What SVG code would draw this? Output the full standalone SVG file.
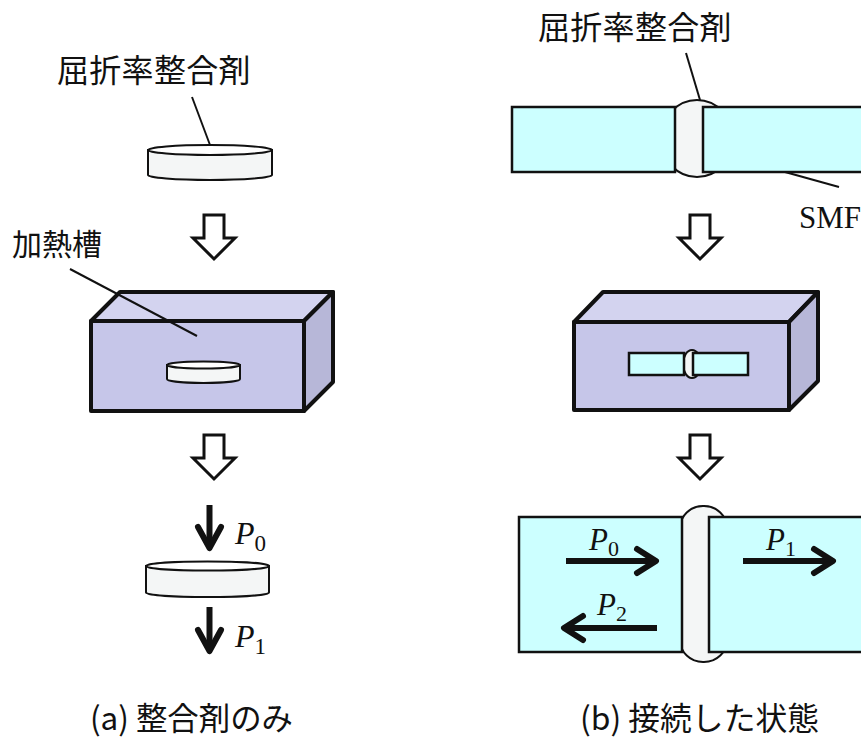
<svg xmlns="http://www.w3.org/2000/svg" width="861" height="738" viewBox="0 0 861 738">
  <style>
    .jp { font-family: "Noto Sans CJK JP", "Noto Sans CJK SC", sans-serif; fill: #111; }
    .sym { font-family: "Liberation Serif", "Times New Roman", serif; fill: #111; }
    .lead { stroke: #111; stroke-width: 2; fill: none; }
    .fiber { fill: #ccffff; stroke: #111; stroke-width: 2.5; }
    .gel { fill: #f4f6f6; stroke: #111; stroke-width: 2; }
    .disc-top { fill: #ffffff; stroke: #111; stroke-width: 2; }
    .front { fill: #c6c6e9; stroke: #111; stroke-width: 4; stroke-linejoin: round; }
    .top { fill: #d3d3ef; stroke: #111; stroke-width: 4; stroke-linejoin: round; }
    .side { fill: #b7b7d8; stroke: #111; stroke-width: 4; stroke-linejoin: round; }
    .hollow { fill: #ffffff; stroke: #111; stroke-width: 3; }
    .shaft { stroke: #111; stroke-width: 6; fill: none; }
    .head { stroke: #111; stroke-width: 6; fill: none; stroke-linecap: round; stroke-linejoin: round; }
  </style>
  <defs>
    <path id="hollowDown" class="hollow" d="M -10 0 H 10 V 23 H 21 L 0 44 L -21 23 H -10 Z"/>
  </defs>

  <!-- (a) matching agent alone -->
  <g id="label-agent-a">
    <text class="jp" x="57" y="82" font-size="32" letter-spacing="0.3">屈折率整合剤</text>
  </g>
  <g id="disc-a1">
    <path class="gel" d="M 148 150 V 175 A 62 5 0 0 0 272 175 V 150 Z"/>
    <ellipse class="disc-top" cx="210" cy="150" rx="62" ry="5"/>
  </g>
  <g id="label-bath">
    <text class="jp" x="12" y="255" font-size="30">加熱槽</text>
  </g>
  <g id="bath-a">
    <polygon class="top" points="91,321 120,292 333,292 304,321"/>
    <polygon class="side" points="304,321 333,292 333,382 304,411"/>
    <rect class="front" x="91" y="321" width="213" height="90"/>
    <path class="gel" d="M 167 365 V 379 A 36.5 4 0 0 0 240 379 V 365 Z"/>
    <ellipse class="disc-top" cx="203.5" cy="365" rx="36.5" ry="3.5"/>
  </g>
  <g id="disc-a2">
    <path class="gel" d="M 146 566 V 592.5 A 61.5 4.5 0 0 0 269 592.5 V 566 Z"/>
    <ellipse class="disc-top" cx="207.5" cy="566" rx="61.5" ry="4.5"/>
  </g>
  <g id="power-a">
    <text class="sym" x="235" y="544" font-size="32"><tspan font-style="italic">P</tspan><tspan font-size="23" dy="7">0</tspan></text>
    <text class="sym" x="235" y="647" font-size="32"><tspan font-style="italic">P</tspan><tspan font-size="23" dy="7">1</tspan></text>
  </g>
  <g id="caption-a">
    <text class="jp" x="90" y="730" font-size="32" textLength="203" lengthAdjust="spacingAndGlyphs">(a) 整合剤のみ</text>
  </g>

  <!-- (b) connected fibres -->
  <g id="label-agent-b">
    <text class="jp" x="538" y="39" font-size="32" letter-spacing="0.3">屈折率整合剤</text>
  </g>
  <g id="joint-b1">
    <ellipse class="gel" cx="697" cy="138.5" rx="36" ry="38.5"/>
    <rect class="fiber" x="512" y="107" width="163" height="65"/>
    <rect class="fiber" x="703" y="107" width="170" height="65"/>
  </g>
  <g id="label-smf">
    <text class="sym" x="799" y="228" font-size="31">SMF</text>
  </g>
  <g id="bath-b">
    <polygon class="top" points="574,322 603,292 818,292 789,322"/>
    <polygon class="side" points="789,322 818,292 818,381 789,410"/>
    <rect class="front" x="574" y="322" width="215" height="88"/>
    <ellipse class="gel" cx="692" cy="364" rx="9" ry="14"/>
    <rect class="fiber" x="629" y="353" width="55" height="22"/>
    <rect class="fiber" x="693" y="353" width="55" height="22"/>
  </g>
  <g id="joint-b2">
    <rect class="gel" x="680" y="506" width="47" height="156" rx="23" ry="22"/>
    <rect class="fiber" x="519" y="517" width="163" height="135"/>
    <rect class="fiber" x="709" y="517" width="170" height="135"/>
  </g>
  <g id="power-b">
    <text class="sym" x="589" y="550" font-size="31"><tspan font-style="italic">P</tspan><tspan font-size="22" dy="6">0</tspan></text>
    <text class="sym" x="766" y="550" font-size="31"><tspan font-style="italic">P</tspan><tspan font-size="22" dy="6">1</tspan></text>
    <text class="sym" x="597" y="615" font-size="31"><tspan font-style="italic">P</tspan><tspan font-size="22" dy="6">2</tspan></text>
  </g>
  <g id="caption-b">
    <text class="jp" x="580" y="730" font-size="32" textLength="239" lengthAdjust="spacingAndGlyphs">(b) 接続した状態</text>
  </g>

  <!-- connectors: leader lines, process arrows, power arrows -->
  <g id="connectors">
    <line class="lead" x1="192" y1="97" x2="210" y2="145"/>
    <line class="lead" x1="70" y1="269" x2="197" y2="336"/>
    <line class="lead" x1="686" y1="53" x2="700" y2="100"/>
    <line class="lead" x1="785" y1="172" x2="839" y2="187"/>

    <use href="#hollowDown" x="214" y="215"/>
    <use href="#hollowDown" x="214" y="435"/>
    <use href="#hollowDown" x="700" y="215"/>
    <use href="#hollowDown" x="700" y="435"/>

    <line class="shaft" x1="209.5" y1="505" x2="209.5" y2="546"/>
    <polyline class="head" points="198,527 209.5,548 221,527"/>
    <line class="shaft" x1="209.5" y1="607" x2="209.5" y2="650"/>
    <polyline class="head" points="198,630 209.5,651 221,630"/>

    <line class="shaft" x1="566" y1="561" x2="654" y2="561"/>
    <polyline class="head" points="637,549 656,561 637,573"/>
    <line class="shaft" x1="743" y1="561" x2="831" y2="561"/>
    <polyline class="head" points="814,549 833,561 814,573"/>
    <line class="shaft" x1="657" y1="628" x2="566" y2="628"/>
    <polyline class="head" points="583,616 564,628 583,640"/>
  </g>
</svg>
